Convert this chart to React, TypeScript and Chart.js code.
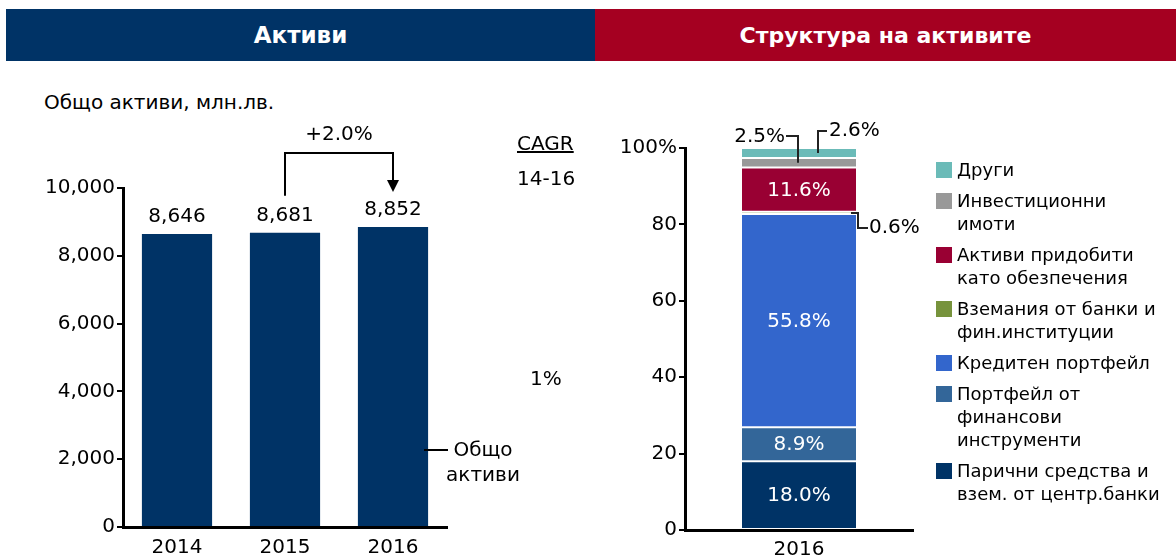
import React, { useEffect, useRef } from 'react';
import { Chart, registerables } from 'chart.js';
Chart.register(...registerables);

// ---- data ----
const years = ['2014', '2015', '2016'];
const totalAssets = [8646, 8681, 8852];
const growthLabel = '+2.0%';
const cagrPeriod = '14-16';
const cagrValue = '1%';
const leftSeriesName = ['Общо', 'активи'];

const structYear = ['2016'];
const structNames = [
  ['Парични средства и', 'взем. от центр.банки'],
  ['Портфейл от', 'финансови', 'инструменти'],
  ['Кредитен портфейл'],
  ['Вземания от банки и', 'фин.институции'],
  ['Активи придобити', 'като обезпечения'],
  ['Инвестиционни', 'имоти'],
  ['Други'],
];
const structValues = [18.0, 8.9, 55.8, 0.6, 11.6, 2.5, 2.6];
const structColors = ['#003366', '#336699', '#3366CC', '#77933C', '#990033', '#999999', '#6BBBB8'];

const FONT = "'DejaVu Sans', Verdana, sans-serif";
const fmt = (v: number) => v.toLocaleString('en-US');

function LeftChart() {
  const ref = useRef<HTMLCanvasElement>(null);
  useEffect(() => {
    const labelsPlugin = {
      id: 'leftLabels',
      afterDatasetsDraw(chart: any) {
        const ctx = chart.ctx;
        const meta = chart.getDatasetMeta(0);
        ctx.save();
        ctx.fillStyle = '#000';
        ctx.font = `20px ${FONT}`;
        ctx.textAlign = 'center';
        ctx.textBaseline = 'middle';
        meta.data.forEach((bar: any, i: number) => {
          ctx.fillText(fmt(totalAssets[i]), bar.x, bar.y - 17);
        });
        // growth bracket 2015 -> 2016
        const b1 = meta.data[1];
        const b2 = meta.data[2];
        const topY = chart.chartArea.top - 35;
        ctx.strokeStyle = '#000';
        ctx.lineWidth = 2;
        ctx.beginPath();
        ctx.moveTo(b1.x, b1.y - 37);
        ctx.lineTo(b1.x, topY);
        ctx.lineTo(b2.x, topY);
        ctx.lineTo(b2.x, b2.y - 46);
        ctx.stroke();
        ctx.fillStyle = '#000';
        ctx.beginPath();
        ctx.moveTo(b2.x - 6, b2.y - 47);
        ctx.lineTo(b2.x + 6, b2.y - 47);
        ctx.lineTo(b2.x, b2.y - 35);
        ctx.closePath();
        ctx.fill();
        ctx.font = `20px ${FONT}`;
        ctx.fillText(growthLabel, (b1.x + b2.x) / 2, topY - 18);
        ctx.restore();
      },
    };
    const chart = new Chart(ref.current!, {
      type: 'bar',
      data: {
        labels: years,
        datasets: [
          {
            data: totalAssets,
            backgroundColor: '#003366',
            borderWidth: 0,
            categoryPercentage: 1,
            barPercentage: 0.65,
          },
        ],
      },
      options: {
        responsive: false,
        animation: false,
        layout: { padding: { top: 188, right: 153, left: 0, bottom: 0 } },
        plugins: { legend: { display: false }, tooltip: { enabled: false } },
        scales: {
          x: {
            grid: { display: false },
            border: { display: true, color: '#000', width: 3 },
            ticks: { color: '#000', font: { family: FONT, size: 20 }, padding: 1 },
            afterFit: (s: any) => {
              s.height = 29;
            },
          },
          y: {
            min: 0,
            max: 10000,
            ticks: {
              stepSize: 2000,
              color: '#000',
              font: { family: FONT, size: 20 },
              padding: 2,
              callback: (v: any) => fmt(Number(v)),
            },
            grid: { display: true, drawOnChartArea: false, drawTicks: true, tickLength: 6, color: '#000', lineWidth: 2 },
            border: { display: true, color: '#000', width: 3 },
            afterFit: (s: any) => {
              s.width = 123;
            },
          },
        },
      },
      plugins: [labelsPlugin],
    });
    return () => chart.destroy();
  }, []);
  return (
    <canvas
      ref={ref}
      width={600}
      height={556}
      style={{ position: 'absolute', left: 0, top: 0, width: 600, height: 556 }}
    />
  );
}

function RightChart() {
  const ref = useRef<HTMLCanvasElement>(null);
  useEffect(() => {
    const labelsPlugin = {
      id: 'rightLabels',
      afterDatasetsDraw(chart: any) {
        const ctx = chart.ctx;
        const top = chart.chartArea.top;
        ctx.save();
        ctx.font = `20px ${FONT}`;
        ctx.textBaseline = 'middle';
        ctx.strokeStyle = '#222';
        ctx.lineWidth = 2;
        structValues.forEach((v, i) => {
          const bar: any = chart.getDatasetMeta(i).data[0];
          const mid = (bar.y + bar.base) / 2;
          const label = v.toFixed(1) + '%';
          if (v >= 5) {
            ctx.fillStyle = '#fff';
            ctx.textAlign = 'center';
            ctx.fillText(label, bar.x, mid + 1);
            return;
          }
          ctx.fillStyle = '#000';
          ctx.beginPath();
          if (i === 3) {
            const rx = bar.x + bar.width / 2;
            ctx.moveTo(rx - 5, mid);
            ctx.lineTo(rx + 2, mid);
            ctx.lineTo(rx + 2, mid + 15);
            ctx.lineTo(rx + 12, mid + 15);
            ctx.stroke();
            ctx.textAlign = 'left';
            ctx.fillText(label, rx + 13, mid + 15);
          } else if (i === 5) {
            const lx = bar.x - 1;
            ctx.moveTo(lx, mid);
            ctx.lineTo(lx, top - 12);
            ctx.lineTo(lx - 12, top - 12);
            ctx.stroke();
            ctx.textAlign = 'right';
            ctx.fillText(label, lx - 13, top - 11);
          } else if (i === 6) {
            const lx = bar.x + 19;
            ctx.moveTo(lx, mid);
            ctx.lineTo(lx, top - 17);
            ctx.lineTo(lx + 9, top - 17);
            ctx.stroke();
            ctx.textAlign = 'left';
            ctx.fillText(label, lx + 11, top - 17);
          }
        });
        ctx.restore();
      },
    };
    const chart = new Chart(ref.current!, {
      type: 'bar',
      data: {
        labels: structYear,
        datasets: structValues.map((v, i) => ({
          label: structNames[i].join(' '),
          data: [v],
          backgroundColor: structColors[i],
          borderColor: '#ffffff',
          borderWidth: { top: 1, bottom: 1, left: 0, right: 0 },
          borderSkipped: false,
          categoryPercentage: 1,
          barPercentage: 0.5,
        })),
      },
      options: {
        responsive: false,
        animation: false,
        layout: { padding: { top: 148, right: 263, left: 0, bottom: 0 } },
        plugins: { legend: { display: false }, tooltip: { enabled: false } },
        scales: {
          x: {
            stacked: true,
            grid: { display: false },
            border: { display: true, color: '#000', width: 3 },
            ticks: { color: '#000', font: { family: FONT, size: 20 }, padding: 0 },
            afterFit: (s: any) => {
              s.height = 26;
            },
          },
          y: {
            stacked: true,
            min: 0,
            max: 100,
            ticks: {
              stepSize: 20,
              color: '#000',
              font: { family: FONT, size: 20 },
              padding: 2,
              callback: (v: any) => (Number(v) === 100 ? '100%' : String(v)),
            },
            grid: { display: true, drawOnChartArea: false, drawTicks: true, tickLength: 6, color: '#000', lineWidth: 2 },
            border: { display: true, color: '#000', width: 3 },
            afterFit: (s: any) => {
              s.width = 85;
            },
          },
        },
      },
      plugins: [labelsPlugin],
    });
    return () => chart.destroy();
  }, []);
  return (
    <canvas
      ref={ref}
      width={576}
      height={556}
      style={{ position: 'absolute', left: 600, top: 0, width: 576, height: 556 }}
    />
  );
}

export default function App() {
  const order = structValues.map((_, i) => i).reverse();
  return (
    <div
      style={{
        position: 'absolute',
        left: 0,
        top: 0,
        width: 1176,
        height: 556,
        background: '#fff',
        fontFamily: FONT,
        color: '#000',
        overflow: 'hidden',
      }}
    >
      <div
        style={{
          position: 'absolute', left: 6, top: 9, width: 589, height: 52, background: '#003366',
          color: '#fff', fontWeight: 'bold', fontSize: 23, display: 'flex', alignItems: 'center', justifyContent: 'center',
        }}
      >
        Активи
      </div>
      <div
        style={{
          position: 'absolute', left: 595, top: 9, width: 581, height: 52, background: '#A50021',
          color: '#fff', fontWeight: 'bold', fontSize: 22, display: 'flex', alignItems: 'center', justifyContent: 'center',
        }}
      >
        Структура на активите
      </div>
      <div style={{ position: 'absolute', left: 44, top: 89, fontSize: 20, lineHeight: '26px' }}>
        Общо активи, млн.лв.
      </div>
      <LeftChart />
      <RightChart />
      <div style={{ position: 'absolute', left: 517, top: 130, fontSize: 20, lineHeight: '26px', textDecoration: 'underline' }}>
        CAGR
      </div>
      <div style={{ position: 'absolute', left: 517, top: 165, fontSize: 20, lineHeight: '26px' }}>{cagrPeriod}</div>
      <div style={{ position: 'absolute', left: 530, top: 365, fontSize: 20, lineHeight: '26px' }}>{cagrValue}</div>
      <div style={{ position: 'absolute', left: 424, top: 449, width: 24, height: 2, background: '#000' }} />
      <div
        style={{ position: 'absolute', left: 433, top: 437, width: 100, fontSize: 20, lineHeight: '25px', textAlign: 'center' }}
      >
        {leftSeriesName.map((t) => (
          <div key={t}>{t}</div>
        ))}
      </div>
      <div style={{ position: 'absolute', left: 936, top: 158, fontSize: 18, lineHeight: '23px' }}>
        {order.map((i) => (
          <div key={i} style={{ display: 'flex', marginBottom: 8 }}>
            <div style={{ width: 16, height: 16, background: structColors[i], marginTop: 4, marginRight: 5, flex: 'none' }} />
            <div style={{ whiteSpace: 'nowrap' }}>
              {structNames[i].map((t) => (
                <div key={t}>{t}</div>
              ))}
            </div>
          </div>
        ))}
      </div>
    </div>
  );
}
